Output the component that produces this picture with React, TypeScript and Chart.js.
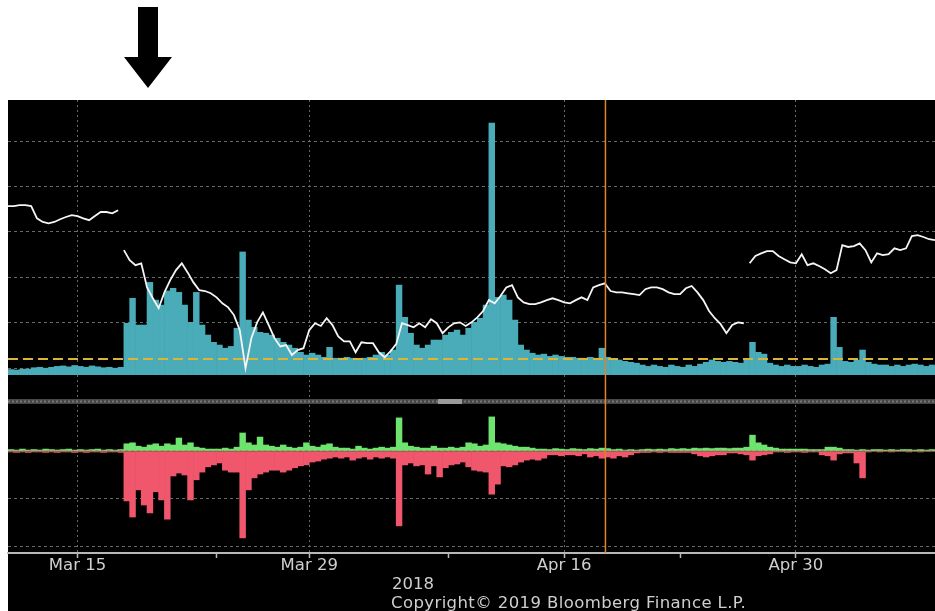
import { useEffect, useRef } from 'react';
import { Chart, registerables } from 'chart.js';

Chart.register(...registerables);

// x axis: trading-day index (0 = Mon Mar 12, 2018), one sample every quarter day
const STEP = 0.25;
const X_MIN = 0;
const X_MAX = 40;
const TICK_VALUES = [3, 9, 13, 19, 24, 29, 34];
const TICK_LABELS = ['Mar 15', '', 'Mar 29', '', 'Apr 16', '', 'Apr 30'];
const MARKER_T = 25.78;
const REF_LEVEL = 2.0;
const TOP_GRID = [0, 10, 20, 30, 40, 50];
const BOTTOM_GRID = [0, -10, -20];
const SEPARATOR_VALUE = 10;
const YEAR_LABEL = '2018';
const COPYRIGHT = 'Copyright\u00A9 2019 Bloomberg Finance L.P.';

// white price line, three segments
const WHITE_A_START = 0;
const WHITE_A = [35.7, 35.7, 35.9, 35.9, 35.7, 33.0, 32.2, 31.9, 32.2, 32.8, 33.3, 33.7, 33.5, 33.0, 32.6, 33.5, 34.4, 34.4, 34.1, 34.8];
const WHITE_B_START = 5;
const WHITE_B = [
  26.0, 23.8, 22.7, 23.1,
  17.8, 15.4, 13.2, 16.7,
  19.4, 21.6, 23.1, 21.1,
  18.9, 17.2, 17.0, 16.5,
  15.6, 14.3, 13.4, 11.7,
  8.4, 0.0, 6.6, 10.1,
  12.3, 9.5, 6.6, 4.8,
  5.1, 2.9, 4.0, 4.4,
  8.4, 9.9, 9.3, 11.0,
  9.5, 7.0, 5.9, 5.9,
  3.5, 5.7, 5.5, 5.5,
  3.5, 2.4, 3.7, 5.3,
  9.9, 9.5, 9.0, 9.9,
  9.0, 10.8, 9.9, 7.7,
  9.0, 9.9, 10.1, 9.3,
  10.1, 11.2, 12.6, 15.0,
  14.3, 15.9, 17.8, 18.3,
  15.6, 14.5, 14.1, 14.1,
  14.5, 15.0, 15.4, 15.0,
  14.5, 14.3, 15.0, 15.6,
  15.0, 17.8, 18.3, 18.7,
  17.0, 16.7, 16.7, 16.5,
  16.3, 16.1, 17.4, 17.8,
  17.8, 17.4, 16.7, 16.3,
  16.3, 17.6, 18.1, 16.7,
  15.0, 12.6, 11.0, 9.7,
  7.7, 9.5, 10.1, 9.9,
];
const WHITE_C_START = 32;
const WHITE_C = [
  23.1, 24.7, 25.3, 25.8, 25.8, 24.7, 24.0, 23.3, 23.1, 25.1, 22.7, 23.1, 22.5, 21.8, 20.9, 21.6,
  27.1, 26.7, 26.9, 27.5, 26.0, 23.3, 25.3, 24.9, 25.1, 26.4, 26.0, 26.4, 29.1, 29.3, 28.9, 28.4, 28.2,
];

// teal histogram (top panel)
const TEAL = [
  -0.3, -0.4, -0.2, -0.2,
  0.1, 0.2, 0.0, 0.2,
  0.4, 0.5, 0.3, 0.6,
  0.4, 0.2, 0.5, 0.3,
  0.1, 0.2, 0.0, 0.2,
  9.9, 15.4, 9.5, 9.5,
  18.9, 15.0, 13.9, 17.0,
  17.6, 16.7, 13.9, 10.1,
  16.7, 9.5, 7.3, 5.7,
  5.1, 4.4, 4.8, 8.8,
  25.6, 10.6, 9.0, 7.9,
  7.7, 7.3, 6.6, 5.7,
  5.1, 4.4, 3.5, 2.9,
  3.3, 2.9, 2.4, 4.6,
  2.2, 2.2, 2.4, 2.2,
  1.8, 2.2, 2.4, 2.9,
  3.5, 2.9, 4.0, 18.3,
  11.2, 7.7, 5.1, 4.4,
  5.1, 6.2, 6.2, 7.3,
  7.9, 8.4, 7.3, 8.8,
  10.1, 11.0, 13.9, 54.0,
  15.6, 16.1, 15.0, 10.6,
  5.1, 4.0, 3.3, 2.9,
  3.1, 2.6, 2.9, 2.6,
  2.4, 2.4, 2.2, 2.2,
  2.4, 2.2, 4.4, 2.4,
  1.8, 1.8, 1.5, 1.3,
  1.1, 0.7, 0.4, 0.7,
  0.4, 0.2, 0.7, 0.4,
  0.2, 0.7, 0.4, 0.9,
  1.3, 1.8, 1.5, 1.3,
  1.5, 1.3, 1.1, 1.8,
  5.7, 3.5, 3.1, 1.1,
  0.7, 0.4, 0.7, 0.4,
  0.4, 0.7, 0.4, 0.2,
  0.7, 0.9, 11.2, 4.6,
  1.5, 1.3, 1.8, 4.0,
  1.3, 0.9, 0.7, 0.7,
  0.4, 0.7, 0.4, 0.7,
  0.9, 0.7, 0.4, 0.7,
];

// lower panel: positive (green) and negative (red) bars
const GREEN = [
  0.3, 0.2, 0.4, 0.2,
  0.3, 0.2, 0.4, 0.3,
  0.2, 0.3, 0.4, 0.2,
  0.3, 0.2, 0.3, 0.4,
  0.2, 0.3, 0.2, 0.3,
  1.5, 1.7, 1.0, 0.8,
  1.25, 1.5, 1.0, 1.5,
  1.25, 2.7, 1.25, 1.7,
  0.8, 0.6, 0.4, 0.4,
  0.4, 0.6, 0.4, 0.8,
  3.75, 1.7, 1.25, 2.9,
  1.25, 1.0, 0.8, 1.25,
  0.8, 0.6, 0.8, 1.7,
  1.0, 0.8, 1.25, 1.5,
  0.8, 0.6, 0.6, 0.4,
  1.0, 0.6, 0.4, 0.6,
  0.8, 0.6, 0.8, 6.9,
  1.7, 1.0, 0.8, 0.6,
  0.6, 1.0, 0.6, 0.6,
  0.8, 0.6, 0.8, 1.7,
  1.5, 1.0, 1.25, 7.1,
  1.7, 1.5, 1.25, 1.0,
  0.8, 0.8, 0.6, 0.4,
  0.4, 0.3, 0.5, 0.4,
  0.3, 0.5, 0.4, 0.3,
  0.5, 0.4, 0.6, 0.5,
  0.3, 0.4, 0.2, 0.3,
  0.2, 0.3, 0.4, 0.3,
  0.4, 0.3, 0.5, 0.4,
  0.5, 0.4, 0.6, 0.5,
  0.6, 0.5, 0.6, 0.6,
  0.5, 0.6, 0.6, 0.8,
  3.3, 1.7, 1.25, 0.8,
  0.6, 0.4, 0.4, 0.4,
  0.4, 0.4, 0.3, 0.3,
  0.3, 0.8, 0.8, 0.6,
  0.3, 0.3, 0.2, 0.3,
  0.2, 0.3, 0.3, 0.2,
  0.3, 0.2, 0.3, 0.3,
  0.2, 0.3, 0.2, 0.3,
];
const RED = [
  -0.2, -0.3, -0.2, -0.3,
  -0.2, -0.2, -0.3, -0.2,
  -0.3, -0.2, -0.2, -0.3,
  -0.2, -0.3, -0.2, -0.2,
  -0.3, -0.2, -0.2, -0.3,
  -10.4, -13.75, -8.1, -11.25,
  -12.9, -8.5, -10.2, -14.2,
  -5.2, -4.6, -5.0, -10.2,
  -6.0, -4.4, -3.3, -2.9,
  -2.5, -4.0, -4.4, -4.4,
  -18.1, -8.1, -5.6, -4.8,
  -4.4, -4.0, -4.0, -4.4,
  -4.0, -3.5, -3.1, -2.9,
  -2.3, -2.1, -1.7, -1.5,
  -1.25, -1.5, -1.25, -1.9,
  -1.5, -1.25, -1.7, -1.25,
  -1.5, -1.25, -1.5, -15.6,
  -2.9, -2.5, -3.1, -2.9,
  -4.8, -3.1, -5.4, -3.5,
  -2.9, -2.7, -2.3, -3.3,
  -4.0, -4.2, -4.4, -9.0,
  -6.9, -3.1, -3.3, -2.9,
  -2.3, -1.9, -1.7, -1.9,
  -1.5, -0.8, -0.8, -1.0,
  -0.8, -0.8, -1.0, -0.6,
  -1.25, -1.0, -1.5, -1.25,
  -1.5, -1.0, -1.25, -0.8,
  -0.4, -0.3, -0.3, -0.2,
  -0.3, -0.2, -0.3, -0.3,
  -0.3, -0.3, -0.6, -1.0,
  -1.25, -1.0, -0.8, -0.8,
  -0.4, -0.4, -0.6, -0.8,
  -1.9, -1.0, -0.8, -0.6,
  -0.2, -0.2, -0.3, -0.2,
  -0.2, -0.3, -0.2, -0.2,
  -0.8, -1.0, -1.9, -0.6,
  -0.4, -0.4, -2.5, -5.6,
  -0.2, -0.1, -0.2, -0.1,
  -0.2, -0.1, -0.1, -0.2,
  -0.1, -0.2, -0.1, -0.1,
];

const FONT = '"DejaVu Sans", Verdana, sans-serif';
const GRID_COLOR = '#6a6a6a';
const TEXT_COLOR = '#cfcfcf';

const linePoints = (start: number, arr: number[]) => arr.map((v, i) => ({ x: start + i * STEP, y: v }));
const barPoints = (arr: number[]) => arr.map((v, i) => ({ x: X_MIN + i * STEP + STEP / 2, y: v }));

const decorPlugin = {
  id: 'bbgDecor',
  beforeDraw(chart: any) {
    const { ctx, width, height, chartArea } = chart;
    ctx.save();
    ctx.fillStyle = '#ffffff';
    ctx.fillRect(0, 0, width, height);
    ctx.fillStyle = '#000000';
    ctx.fillRect(chartArea.left, chartArea.top, width - chartArea.left, height - chartArea.top);
    // pointer arrow above the chart
    ctx.beginPath();
    ctx.moveTo(138, 7);
    ctx.lineTo(158, 7);
    ctx.lineTo(158, 57);
    ctx.lineTo(172, 57);
    ctx.lineTo(148, 88);
    ctx.lineTo(124, 57);
    ctx.lineTo(138, 57);
    ctx.closePath();
    ctx.fill();
    ctx.restore();
  },
  beforeDatasetsDraw(chart: any) {
    const { ctx, chartArea } = chart;
    const y = chart.scales.yBot.getPixelForValue(SEPARATOR_VALUE);
    ctx.save();
    ctx.fillStyle = '#474747';
    ctx.fillRect(chartArea.left, y - 4, chartArea.right - chartArea.left, 5);
    ctx.strokeStyle = '#777777';
    ctx.lineWidth = 2;
    ctx.setLineDash([2, 2]);
    ctx.beginPath();
    ctx.moveTo(chartArea.left, y - 1.5);
    ctx.lineTo(chartArea.right, y - 1.5);
    ctx.stroke();
    ctx.fillStyle = '#9a9a9a';
    ctx.fillRect(chartArea.left + 430, y - 4, 24, 5);
    ctx.restore();
  },
  afterDatasetsDraw(chart: any) {
    const { ctx, chartArea } = chart;
    const x = chart.scales.x.getPixelForValue(MARKER_T);
    ctx.save();
    ctx.strokeStyle = '#e0842c';
    ctx.lineWidth = 1.5;
    ctx.beginPath();
    ctx.moveTo(x, chartArea.top);
    ctx.lineTo(x, chartArea.bottom);
    ctx.stroke();
    ctx.fillStyle = TEXT_COLOR;
    ctx.font = `16.5px ${FONT}`;
    ctx.textAlign = 'left';
    ctx.textBaseline = 'alphabetic';
    ctx.fillText(YEAR_LABEL, 392, 589);
    try { (ctx as any).letterSpacing = '0.4px'; } catch (e) { /* ignore */ }
    ctx.fillText(COPYRIGHT, 391, 607.5);
    ctx.restore();
  },
};

export default function App() {
  const ref = useRef<HTMLCanvasElement>(null);

  useEffect(() => {
    const canvas = ref.current;
    if (!canvas) return;
    const white = { type: 'line', yAxisID: 'yTop', borderColor: '#f5f5f5', borderWidth: 1.8, pointRadius: 0, tension: 0, spanGaps: false };
    const bar = { type: 'bar', grouped: false, barPercentage: 1, categoryPercentage: 1, borderWidth: 0 };
    const chart = new Chart(canvas, {
      type: 'bar',
      data: {
        datasets: [
          { ...white, label: 'Price A', data: linePoints(WHITE_A_START, WHITE_A) },
          { ...white, label: 'Price B', data: linePoints(WHITE_B_START, WHITE_B) },
          { ...white, label: 'Price C', data: linePoints(WHITE_C_START, WHITE_C) },
          {
            type: 'line', label: 'Reference', yAxisID: 'yTop',
            data: [{ x: X_MIN, y: REF_LEVEL }, { x: X_MAX, y: REF_LEVEL }],
            borderColor: '#d9b53a', borderWidth: 2, borderDash: [10, 5], pointRadius: 0,
          },
          { ...bar, label: 'Volume', yAxisID: 'yTop', data: barPoints(TEAL), backgroundColor: '#4aabb9', base: -1.5 },
          { ...bar, label: 'Up', yAxisID: 'yBot', data: barPoints(GREEN), backgroundColor: '#6ee46e', base: 0 },
          { ...bar, label: 'Down', yAxisID: 'yBot', data: barPoints(RED), backgroundColor: '#f0566c', base: 0 },
        ] as any,
      },
      options: {
        animation: false,
        responsive: false,
        events: [],
        layout: { padding: { left: 8, top: 100, right: 0, bottom: 38 } },
        plugins: { legend: { display: false }, tooltip: { enabled: false }, title: { display: false } },
        scales: {
          x: {
            type: 'linear',
            position: 'bottom',
            min: X_MIN,
            max: X_MAX,
            offset: false,
            afterBuildTicks: (s: any) => { s.ticks = TICK_VALUES.map((v) => ({ value: v })); },
            afterFit: (s: any) => { s.height = 20; },
            ticks: {
              autoSkip: false,
              maxRotation: 0,
              minRotation: 0,
              padding: -1,
              color: TEXT_COLOR,
              font: { family: FONT, size: 16.5, lineHeight: 1 },
              callback: (v: any) => {
                const i = TICK_VALUES.indexOf(Number(v));
                return i >= 0 ? TICK_LABELS[i] : '';
              },
            },
            grid: {
              offset: false,
              color: (c: any) => {
                const i = c.tick ? TICK_VALUES.indexOf(c.tick.value) : -1;
                return i >= 0 && TICK_LABELS[i] ? GRID_COLOR : 'rgba(0,0,0,0)';
              },
              lineWidth: 1,
              drawTicks: true,
              tickLength: 5,
              tickColor: '#b8b8b8',
              tickWidth: 1.5,
            },
            border: { display: true, color: '#b8b8b8', width: 2, dash: [2, 3] },
          },
          yBot: {
            type: 'linear',
            axis: 'y',
            position: 'left',
            stack: 'panels',
            stackWeight: 178,
            weight: 0,
            min: -21.25,
            max: 15.83,
            afterBuildTicks: (s: any) => { s.ticks = BOTTOM_GRID.map((v) => ({ value: v })); },
            afterFit: (s: any) => { s.width = 0; },
            ticks: { display: false },
            grid: { color: GRID_COLOR, lineWidth: 1, drawTicks: false },
            border: { display: false, dash: [3, 3] },
          },
          yTop: {
            type: 'linear',
            axis: 'y',
            position: 'left',
            stack: 'panels',
            stackWeight: 275,
            weight: 1,
            min: -1.5,
            max: 59.07,
            afterBuildTicks: (s: any) => { s.ticks = TOP_GRID.map((v) => ({ value: v })); },
            afterFit: (s: any) => { s.width = 0; },
            ticks: { display: false },
            grid: { color: GRID_COLOR, lineWidth: 1, drawTicks: false },
            border: { display: false, dash: [3, 3] },
          },
        } as any,
      },
      plugins: [decorPlugin],
    } as any);
    return () => chart.destroy();
  }, []);

  return (
    <div style={{ position: 'fixed', left: 0, top: 0, width: 935, height: 611, background: '#ffffff' }}>
      <canvas ref={ref} width={935} height={611} style={{ display: 'block', width: 935, height: 611 }} />
    </div>
  );
}
